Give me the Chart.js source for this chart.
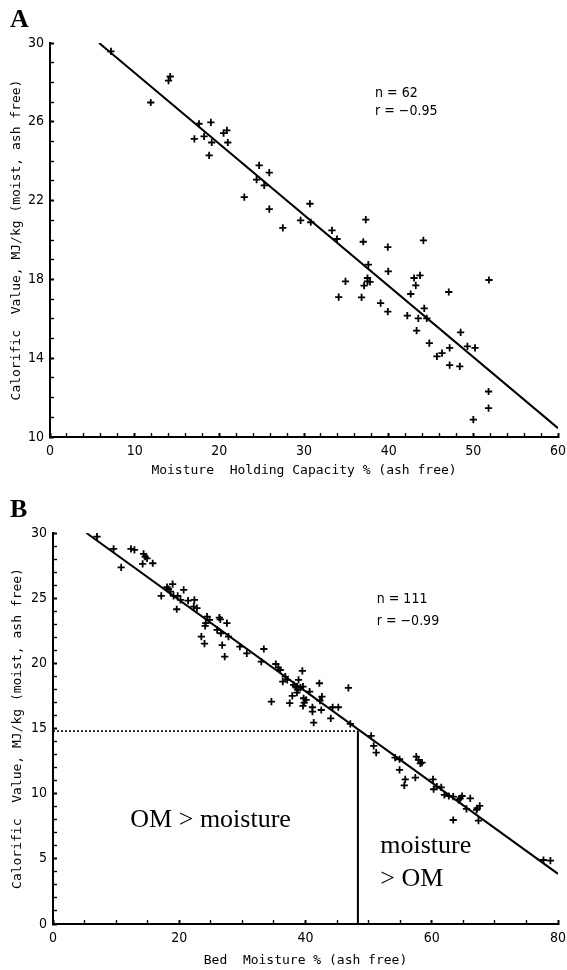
<!DOCTYPE html>
<html><head><meta charset="utf-8">
<script src="https://cdn.jsdelivr.net/npm/chart.js@4.4.1/dist/chart.umd.min.js"></script>
<style>
html,body{margin:0;padding:0;background:#fff;width:567px;height:970px;overflow:hidden}
#wa{position:absolute;left:0;top:0;width:567px;height:485px}
#wb{position:absolute;left:0;top:485px;width:567px;height:485px}
</style></head><body>
<div id="wa"><canvas id="ca"></canvas></div>
<div id="wb"><canvas id="cb"></canvas></div>
<script>
// ---- Panel A data: Moisture holding capacity vs calorific value ----
const aX = [7.2, 11.9, 14.0, 14.2, 17.6, 19.0, 17.05, 18.2, 20.5, 20.9, 19.1, 21.0, 18.8, 24.7, 24.4, 25.9, 25.3, 22.95, 25.9, 27.5, 30.7, 29.6, 30.8, 33.3, 33.9, 37.3, 37.0, 39.9, 44.1, 37.6, 39.95, 34.9, 37.5, 37.5, 37.8, 37.1, 34.1, 36.8, 43.0, 43.7, 43.2, 42.6, 47.1, 51.85, 39.05, 39.9, 44.2, 42.2, 43.5, 44.5, 43.3, 48.5, 44.8, 49.3, 50.2, 47.2, 46.3, 45.7, 47.2, 48.4, 51.8, 51.8, 50.0];
const aY = [29.57, 26.98, 28.09, 28.3, 25.9, 25.97, 25.13, 25.26, 25.43, 25.56, 24.95, 24.95, 24.3, 23.79, 23.06, 23.42, 22.77, 22.18, 21.57, 20.62, 21.84, 21.0, 20.9, 20.49, 20.05, 21.03, 19.91, 19.64, 19.98, 18.75, 18.41, 17.9, 18.07, 17.9, 17.87, 17.68, 17.1, 17.09, 18.07, 18.2, 17.7, 17.26, 17.36, 17.97, 16.8, 16.36, 16.53, 16.16, 16.02, 16.02, 15.4, 15.31, 14.77, 14.6, 14.52, 14.52, 14.26, 14.09, 13.65, 13.58, 12.31, 11.47, 10.88];
const aFitX = [5.8, 60];
const aFitY = [30, 10.45];
const aStats = ["n = 62", "r = \u22120.95"];

// ---- Panel B data: Bed moisture vs calorific value ----
const bX = [6.97, 9.6, 10.8, 12.35, 12.9, 14.35, 14.6, 14.2, 14.9, 15.8, 17.15, 18.06, 18.3, 18.95, 18.6, 19.1, 19.75, 20.2, 19.6, 20.7, 21.4, 22.4, 22.3, 22.8, 24.4, 24.8, 24.2, 24.1, 26.35, 26.5, 23.5, 24.0, 26.0, 26.6, 27.55, 27.8, 26.8, 27.2, 29.6, 30.7, 33.4, 33.0, 35.3, 35.7, 36.0, 36.4, 37.1, 36.8, 34.6, 37.5, 37.9, 38.1, 38.65, 38.9, 38.8,
  39.5, 38.4, 39.2, 39.6, 42.2, 40.65, 38.65, 39.7, 40.1, 39.8, 39.6, 42.6, 42.3, 41.1, 41.1, 42.5, 44.3, 45.2, 44.0, 41.3, 46.8, 47.1, 50.4,
  50.8, 51.2, 54.2, 54.9, 54.9, 55.8, 55.65, 57.4, 57.55, 57.9, 58.2, 58.45, 60.2, 60.3, 60.8, 61.5, 62.0, 62.7, 63.4, 64.25, 64.8, 64.5, 66.1, 65.5, 63.4, 67.2, 67.6, 67.1, 67.4, 77.7, 78.8];
const bY = [29.72, 28.78, 27.37, 28.78, 28.7, 28.4, 28.19, 27.63, 28.06, 27.68, 25.17, 25.84, 25.69, 26.07, 25.5, 25.17, 25.17, 24.87, 24.15, 25.63, 24.81, 24.87, 24.35, 24.23, 23.58, 23.33, 23.08, 22.87, 23.51, 23.38, 22.05, 21.51, 22.56, 22.31, 23.08, 22.05, 21.39, 20.52, 21.28, 20.77, 21.1, 20.13, 19.95, 19.67, 19.49, 18.6, 18.73, 18.98, 17.06, 16.94, 17.5, 18.34, 18.21, 18.73, 17.96,
  19.42, 18.21, 18.14, 18.21, 18.47, 17.83, 17.75, 17.32, 17.19, 16.98, 16.73, 17.44, 17.14, 16.63, 16.29, 16.42, 16.63, 16.63, 15.78, 15.45, 18.11, 15.35, 14.43,
  13.66, 13.15, 12.76, 12.64, 11.82, 11.1, 10.64, 11.23, 12.84, 12.59, 12.33, 12.38, 11.1, 10.34, 10.54, 10.49, 9.9, 9.82, 9.77, 9.52, 9.82, 9.64, 9.64, 8.83, 7.98, 8.88, 9.06, 8.75, 7.93, 4.91, 4.86];
const bFitX = [5.3, 80];
const bFitY = [30, 3.85];
const bThreshX = 48.3;   // moisture where OM = moisture
const bThreshY = 14.8;
const bStats = ["n = 111", "r = \u22120.99"];
const bRegions = ["OM > moisture", "moisture", "> OM"];

const xTitleA = "Moisture  Holding Capacity % (ash free)";
const xTitleB = "Bed  Moisture % (ash free)";
const yTitle = "Calorific  Value, MJ/kg (moist, ash free)";

const pts = (xs, ys) => xs.map((v, i) => ({x: v, y: ys[i]}));

const TICKFONT = {family: "'DejaVu Sans Condensed','Liberation Sans Narrow','DejaVu Sans'", size: 14};
const MONO = {family: "'DejaVu Sans Mono','Liberation Mono',monospace", size: 13};

const textPlugin = {
  id: 'txt',
  afterDraw(chart, args, opts) {
    const {ctx, scales: {x, y}} = chart;
    ctx.save();
    (opts.items || []).forEach(it => {
      ctx.font = it.font;
      ctx.fillStyle = '#000';
      ctx.textAlign = 'left';
      ctx.textBaseline = it.base || 'alphabetic';
      const px = it.abs ? it.px : x.getPixelForValue(it.x);
      const py = it.abs ? it.py : y.getPixelForValue(it.y);
      ctx.fillText(it.text, px, py);
    });
    ctx.restore();
  }
};

function axis(min, max, step, majorFn, title, fitSize, isX, titlePad) {
  return {
    type: 'linear', min, max,
    afterFit(s) {
      if (isX) { s.height = fitSize; s.paddingLeft = 0; s.paddingRight = 8; }
      else { s.width = fitSize; }
    },
    border: {display: true, color: '#000', width: 2},
    grid: {
      display: true, drawOnChartArea: false, drawTicks: true, tickLength: -4,
      tickColor: '#000',
      tickWidth: c => (c.tick && majorFn(c.tick.value)) ? 2 : 1.4
    },
    ticks: {
      stepSize: step, autoSkip: false, maxRotation: 0, color: '#000', font: TICKFONT, padding: 10,
      callback: v => majorFn(v) ? String(v) : ''
    },
    title: {display: true, text: title, color: '#000', font: MONO, padding: titlePad}
  };
}

Chart.defaults.animation = false;

const scatterStyle = {
  pointStyle: 'cross', pointRadius: 3.6, pointBorderWidth: 1.8,
  borderColor: '#000', backgroundColor: '#000', showLine: false
};
const lineStyle = {showLine: true, pointRadius: 0, borderColor: '#000', borderWidth: 2, fill: false};

new Chart(document.getElementById('ca'), {
  type: 'scatter',
  data: {
    datasets: [
      Object.assign({data: pts(aX, aY)}, scatterStyle),
      Object.assign({data: pts(aFitX, aFitY)}, lineStyle)
    ]
  },
  options: {
    responsive: true, maintainAspectRatio: false,
    layout: {padding: {left: 0, top: 43, right: 9, bottom: 0}},
    plugins: {
      legend: {display: false}, tooltip: {enabled: false},
      txt: {items: [
        {abs: true, px: 10, py: 27, text: 'A', font: "bold 26px 'Liberation Serif', serif"},
        {x: 38.4, y: 27.45, base: 'middle', text: aStats[0], font: "14px 'DejaVu Sans Condensed','DejaVu Sans'"},
        {x: 38.4, y: 26.55, base: 'middle', text: aStats[1], font: "14px 'DejaVu Sans Condensed','DejaVu Sans'"}
      ]}
    },
    scales: {
      x: axis(0, 60, 2, v => v % 10 === 0, xTitleA, 48, true, {top: 6, bottom: 7}),
      y: axis(10, 30, 1, v => (v - 10) % 4 === 0, yTitle, 50, false, {top: 9, bottom: 0})
    }
  },
  plugins: [textPlugin]
});

new Chart(document.getElementById('cb'), {
  type: 'scatter',
  data: {
    datasets: [
      Object.assign({data: pts(bX, bY)}, scatterStyle),
      Object.assign({data: pts(bFitX, bFitY)}, lineStyle),
      Object.assign({data: pts([0, bThreshX], [bThreshY, bThreshY])}, lineStyle, {borderWidth: 1.6, borderDash: [2, 2]}),
      Object.assign({data: pts([bThreshX, bThreshX], [0, bThreshY])}, lineStyle)
    ]
  },
  options: {
    responsive: true, maintainAspectRatio: false,
    layout: {padding: {left: 0, top: 48, right: 9, bottom: 0}},
    plugins: {
      legend: {display: false}, tooltip: {enabled: false},
      txt: {items: [
        {abs: true, px: 10, py: 32, text: 'B', font: "bold 26px 'Liberation Serif', serif"},
        {x: 51.3, y: 24.9, base: 'middle', text: bStats[0], font: "14px 'DejaVu Sans Condensed','DejaVu Sans'"},
        {x: 51.3, y: 23.25, base: 'middle', text: bStats[1], font: "14px 'DejaVu Sans Condensed','DejaVu Sans'"},
        {x: 12.25, y: 7.44, text: bRegions[0], font: "26px 'Liberation Serif', serif"},
        {x: 51.85, y: 5.45, text: bRegions[1], font: "26px 'Liberation Serif', serif"},
        {x: 51.85, y: 2.92, text: bRegions[2], font: "26px 'Liberation Serif', serif"}
      ]}
    },
    scales: {
      x: axis(0, 80, 5, v => v % 20 === 0, xTitleB, 46, true, {top: 6, bottom: 2}),
      y: axis(0, 30, 1, v => v % 5 === 0, yTitle, 53, false, {top: 10, bottom: 0})
    }
  },
  plugins: [textPlugin]
});
</script>
</body></html>
